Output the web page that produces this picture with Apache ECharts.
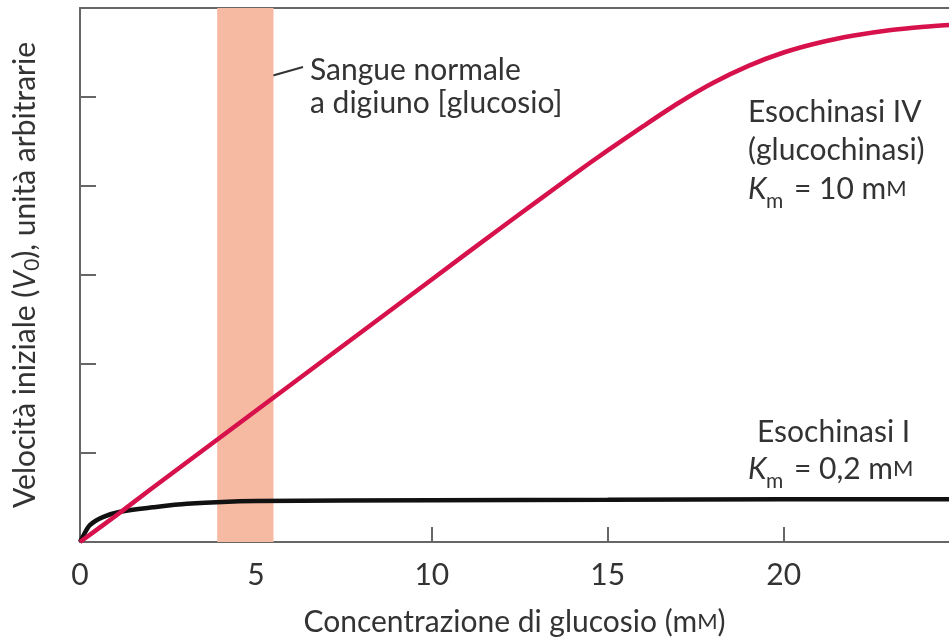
<!DOCTYPE html>
<html lang="it">
<head>
<meta charset="UTF-8">
<title>Esochinasi</title>
<style>
  * { margin: 0; padding: 0; }
  #chart { width: 949px; height: 640px; }
</style>
</head>
<body>
<div id="chart"></div>
<script src="https://cdn.jsdelivr.net/npm/echarts@6/dist/echarts.min.js"></script>
<script>
// glucochinasi (esochinasi IV)
var glcX = [0, 1, 2, 4, 6, 8, 10, 12, 13, 14, 15, 16, 17, 18, 19, 20, 21, 22, 23, 24, 24.7];
var glcY = [0, 0.29, 0.59, 1.18, 1.77, 2.36, 2.95, 3.54, 3.83, 4.12, 4.40, 4.67, 4.93, 5.16, 5.35, 5.50, 5.61, 5.69, 5.75, 5.79, 5.81];
// esochinasi I
var hkX = [0, 0.08, 0.28, 0.65, 1.14, 2.07, 3.04, 5, 10, 15, 20, 24.7];
var hkY = [0, 0.06, 0.19, 0.28, 0.34, 0.39, 0.43, 0.46, 0.47, 0.475, 0.48, 0.48];
// intervallo di glucosio a digiuno
var band = [3.9, 5.5];
var xTicks = [0, 5, 10, 15, 20];

function pairs(xs, ys) {
    return xs.map(function (x, i) { return [x, ys[i]]; });
}

var font = 'Lato';
var txt = '#333';
var axisCol = '#666';

// "K_m = ..." scritto in tre pezzi: K corsivo, pedice m, resto
function kmLabel(x, y, rest) {
    return [
        { type: 'text', left: x, top: y, style: { text: 'K', font: 'italic 30px Lato', fill: txt } },
        { type: 'text', left: x + 18, top: y + 17, style: { text: 'm', font: '21px Lato', fill: txt } },
        {
            type: 'text', left: x + 46, top: y,
            style: { text: rest, font: '30px Lato', fill: txt, rich: { sc: { font: '22px Lato', fill: txt } } }
        }
    ];
}

var chart = echarts.init(document.getElementById('chart'));
var option = {
    animation: false,
    grid: { left: 80, right: 0, top: 8, bottom: 98, containLabel: false, outerBoundsMode: 'none' },
    xAxis: [{
        type: 'value',
        min: 0,
        max: 24.7,
        interval: 5,
        name: 'Concentrazione di glucosio (m{sc|M})',
        nameLocation: 'middle',
        nameGap: 65,
        nameTextStyle: {
            fontFamily: font, fontSize: 30, color: txt,
            rich: { sc: { fontFamily: font, fontSize: 22, color: txt } }
        },
        axisLine: { lineStyle: { color: axisCol, width: 2 } },
        axisTick: { inside: true, length: 15, lineStyle: { color: axisCol, width: 2 } },
        axisLabel: {
            margin: 18, fontFamily: font, fontSize: 30, color: txt, showMaxLabel: false,
            formatter: function (v) { return xTicks.indexOf(v) >= 0 ? String(v) : ''; }
        },
        splitLine: { show: false }
    }, {
        type: 'value',
        position: 'top',
        min: 0,
        max: 24.7,
        axisLine: { show: true, lineStyle: { color: axisCol, width: 2 } },
        axisTick: { show: false },
        axisLabel: { show: false },
        splitLine: { show: false }
    }],
    yAxis: {
        type: 'value',
        min: 0,
        max: 6,
        interval: 1,
        name: 'Velocità iniziale ({v|V}{s|0}), unità arbitrarie',
        nameLocation: 'middle',
        nameGap: 37,
        nameTextStyle: {
            fontFamily: font, fontSize: 30, color: txt, lineHeight: 36,
            rich: {
                v: { fontFamily: font, fontSize: 30, fontStyle: 'italic', color: txt, lineHeight: 36 },
                s: { fontFamily: font, fontSize: 21, color: txt, lineHeight: 16, verticalAlign: 'bottom' }
            }
        },
        axisLine: { show: true, lineStyle: { color: axisCol, width: 2 } },
        axisTick: { inside: true, length: 16, lineStyle: { color: axisCol, width: 2 } },
        axisLabel: { show: false },
        splitLine: { show: false }
    },
    series: [{
        name: 'Esochinasi I',
        type: 'line',
        data: pairs(hkX, hkY),
        smooth: 0.3,
        showSymbol: false,
        lineStyle: { color: '#111', width: 4.5 },
        z: 3,
        markArea: {
            silent: true,
            itemStyle: { color: '#f6b9a1' },
            data: [[{ xAxis: band[0] }, { xAxis: band[1] }]]
        }
    }, {
        name: 'Esochinasi IV',
        type: 'line',
        data: pairs(glcX, glcY),
        smooth: 0.3,
        showSymbol: false,
        lineStyle: { color: '#d6114b', width: 4.5 },
        z: 4
    }],
    graphic: [
        { type: 'line', shape: { x1: 250, y1: 82, x2: 303, y2: 67 }, style: { stroke: '#333', lineWidth: 2 } },
        { type: 'text', left: 310, top: 54, style: { text: 'Sangue normale\na digiuno [glucosio]', font: '30px Lato', fill: txt, lineHeight: 33 } },
        {
            type: 'text', left: 748, top: 93,
            style: { text: 'Esochinasi IV\n(glucochinasi)', font: '30px Lato', fill: txt, lineHeight: 38 }
        },
        { type: 'text', left: 757, top: 417, style: { text: 'Esochinasi I', font: '30px Lato', fill: txt } }
    ].concat(kmLabel(748, 174, '= 10 m{sc|M}'), kmLabel(748, 454, '= 0,2 m{sc|M}'))
};
chart.setOption(option);
</script>
</body>
</html>
